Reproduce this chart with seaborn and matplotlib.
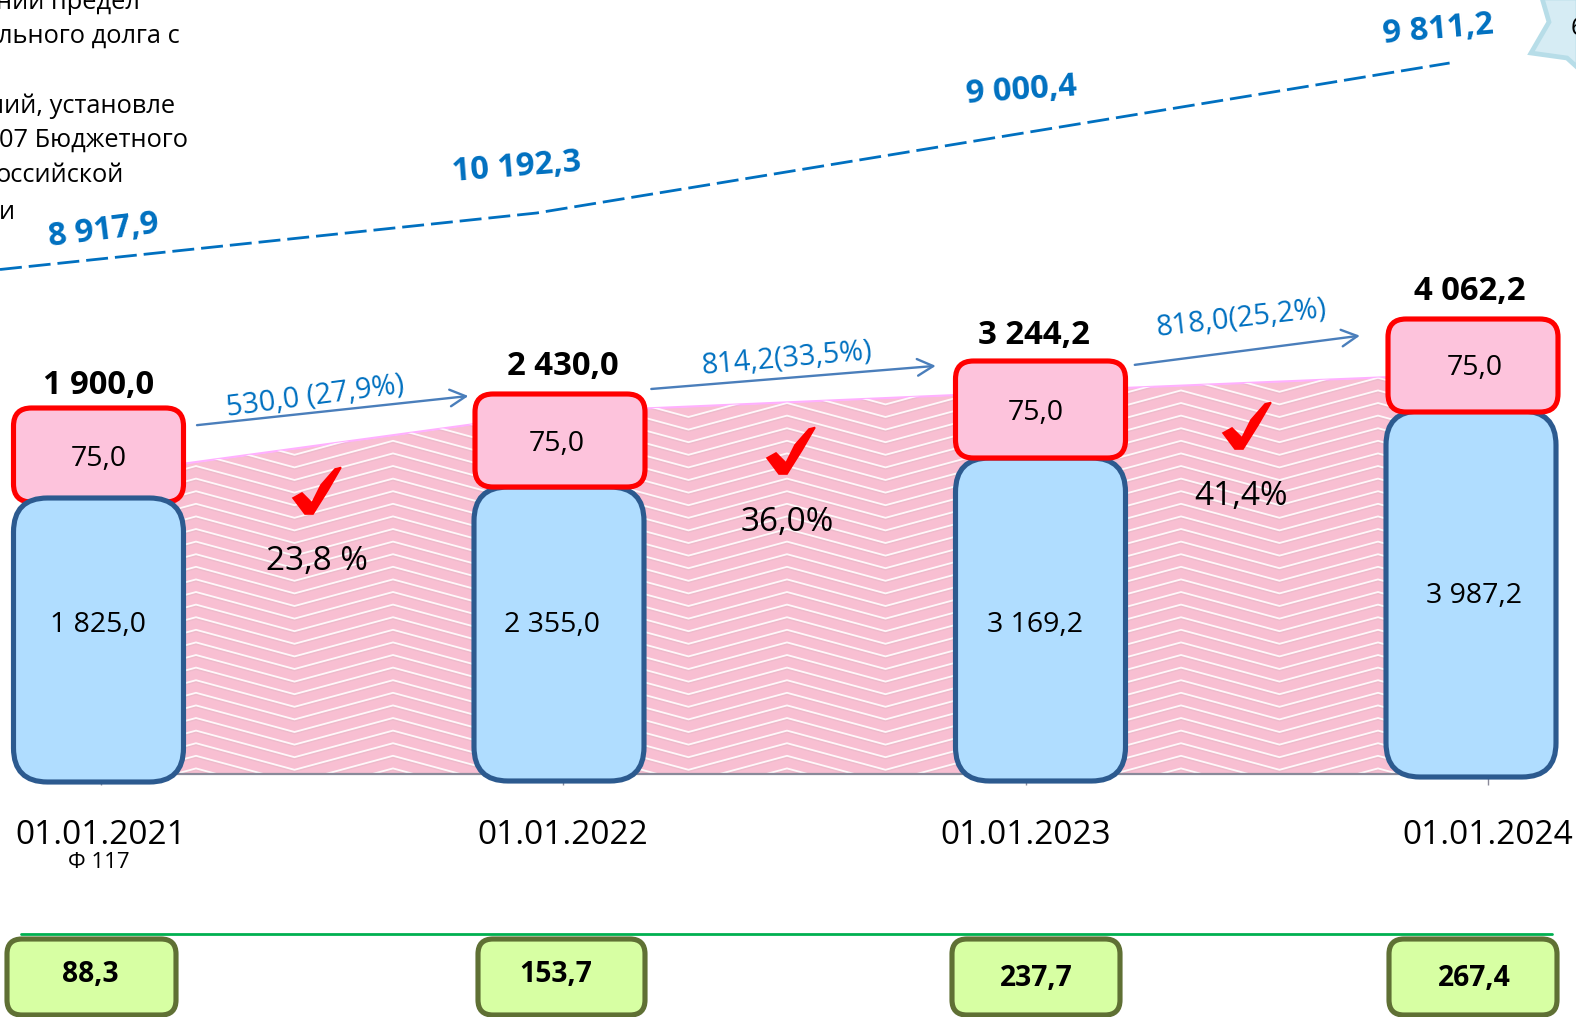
import numpy as np
import matplotlib
matplotlib.use("Agg")
import matplotlib.pyplot as plt
from matplotlib.patches import FancyBboxPatch, Polygon
from matplotlib.transforms import Affine2D, IdentityTransform
from matplotlib.lines import Line2D
import seaborn as sns

# ---- data -----------------------------------------------------------------
dates = ["01.01.2021", "01.01.2022", "01.01.2023", "01.01.2024"]
total_labels = ["1 900,0", "2 430,0", "3 244,2", "4 062,2"]
base_labels = ["1 825,0", "2 355,0", "3 169,2", "3 987,2"]
cap_labels = ["75,0", "75,0", "75,0", "75,0"]
limit_labels = ["8 917,9", "10 192,3", "9 000,4", "9 811,2"]
growth_labels = ["530,0 (27,9%)", "814,2(33,5%)", "818,0(25,2%)"]
share_labels = ["23,8 %", "36,0%", "41,4%"]
service_labels = ["88,3", "153,7", "237,7", "267,4"]
note_lines = ["ний предел", "льного долга с", "ний, установле", "07 Бюджетного", "оссийской", "и"]

# heights as drawn on the slide's own (non proportional) scale
base_tops = [277, 288, 317, 364]
cap_tops = [367, 381, 414, 456]
cap_heights = [96, 95, 99, 95]
area_tops = [299, 362, 382, 401]
limit_line_x = [-0.2173, 0.943, 2.917]
limit_line_y = [504.5, 561, 711]

# ---- layout ----------------------------------------------------------------
W, H = 1576, 1017
K = W / 1568
BASE_PX, TICK0, STEP = 774, 100.5, 462.5
bar_offsets = [-2, -4, 15, -17]
cap_offsets = [-2, -3, 15, -15]
base_below = [9, 8, 8, 4]
BAR_W = 172 / STEP

sns.set_theme(style="white")
plt.rcParams["font.family"] = ["Open Sans", "DejaVu Sans"]
C_BLUE, C_BLUE_E = "#B0DDFF", "#2C5A8F"
C_PINK, C_RED = "#FDC3DC", "#FF0000"
C_AREA = "#F8BFD2"
C_LINE = "#0070C0"
C_ARROW = "#4A7EBB"
C_GREEN, C_GREEN_E = "#D7FFA3", "#5F7034"

fig = plt.figure(figsize=(W / 100, H / 100), dpi=100, facecolor="white")
ax = fig.add_axes([0, 0, 1, 1])
ax.set_facecolor("none")
PX = Affine2D().scale(1, -1).translate(0, H)


def T(x, y, s, size, weight="normal", color="black", rot=0, ha="center", va="center"):
    return ax.text(x * K, (y + 3) * K, s, transform=PX, fontsize=size, fontweight=weight, color=color,
                   rotation=rot, rotation_mode="anchor", ha=ha, va=va, zorder=20, clip_on=False)


# bars through seaborn, then rounded from their geometry
sns.barplot(x=dates, y=base_tops, color=C_BLUE, width=BAR_W, saturation=1, ax=ax)
base_bars = list(ax.patches)
sns.barplot(x=dates, y=cap_tops, color=C_PINK, width=BAR_W, saturation=1, ax=ax)
cap_bars = list(ax.patches)[len(base_bars):]

ax.set_xlim(-TICK0 / STEP, (W - TICK0) / STEP)
ax.set_ylim(BASE_PX - H, BASE_PX)
ax.set_ylabel("")
ax.set_yticks([])
for s in ["top", "left", "right"]:
    ax.spines[s].set_visible(False)
ax.spines["bottom"].set_position(("data", 0))
ax.spines["bottom"].set_bounds(0, 3)
ax.spines["bottom"].set_color("#8A8A9A")
ax.spines["bottom"].set_linewidth(1.6)
ax.spines["bottom"].set_zorder(3)
ax.set_xticks(range(4))
ax.set_xticklabels(dates, fontsize=24, color="black")
ax.tick_params(axis="x", length=8, width=1, color="#8A8A9A", pad=24.2, bottom=True)
ax.set_axisbelow(True)


def rounded(bar, offset, bottom_extra, height, radius, face, edge, lw, z):
    xs = bar.get_x()
    top = bar.get_height()
    bottom = top - height if height is not None else -bottom_extra
    (x0, y0) = ax.transData.transform((xs, bottom))
    (x1, y1) = ax.transData.transform((xs + bar.get_width(), top))
    inset = 1.0
    box = FancyBboxPatch((x0 + offset + inset, y0 + inset), x1 - x0 - 2 * inset, y1 - y0 - 2 * inset,
                         boxstyle=f"round,pad=0,rounding_size={radius}", transform=IdentityTransform(),
                         facecolor=face, edgecolor=edge, linewidth=lw, zorder=z)
    ax.add_patch(box)


for i in range(4):
    rounded(base_bars[i], bar_offsets[i], base_below[i], None, 34, C_BLUE, C_BLUE_E, 3.7, 6 if i else 8)
    rounded(cap_bars[i], cap_offsets[i], 0, cap_heights[i], 18, C_PINK, C_RED, 3.7, 7)
for p in base_bars + cap_bars:
    p.remove()

# area with chevron texture
xpos = np.arange(4)
area = ax.fill_between(xpos, 0, area_tops, color=C_AREA, linewidth=0, zorder=1)
path, trans = area.get_paths()[0], area.get_transform()
sns.lineplot(x=xpos, y=area_tops, color="#FFB0FF", linewidth=1.5, ax=ax, zorder=2, errorbar=None)

xx = np.arange(-1, 18) * 98.5 - 1
phase = np.round((xx - 393) / 98.5).astype(int) % 2
yy = np.where(phase == 0, 0.0, 26.6)
for lev in np.arange(340, 830, 12.6):
    shade = Line2D(xx, lev + yy + 1.6, transform=PX, color="#EDBBCB", lw=1.1, zorder=1.5)
    ln = Line2D(xx, lev + yy, transform=PX, color="white", lw=1.3, alpha=0.9, zorder=2)
    for item in (shade, ln):
        ax.add_line(item)
        item.set_clip_path(path, trans)

# dashed limit line
sns.lineplot(x=limit_line_x, y=limit_line_y, color=C_LINE, linewidth=2.0, ax=ax, zorder=4, errorbar=None, sort=False)
ax.lines[-1].set_linestyle((0, (7.9, 2.5)))
ax.set_xlim(-TICK0 / STEP, (W - TICK0) / STEP)
ax.set_ylim(BASE_PX - H, BASE_PX)

# texts on the bars
for (x, y), s in zip([(98, 381), (560, 362), (1029, 331), (1462, 287)], total_labels):
    T(x, y, s, 23.7, "bold")
for (x, y), s in zip([(98, 454), (554, 439), (1031, 408), (1467, 363)], cap_labels):
    T(x, y, s, 20.5)
for (x, y), s in zip([(98, 619), (549, 619), (1030, 619), (1467, 590)], base_labels):
    T(x, y, s, 20.5)
for (x, y, r), s in zip([(103, 227, 7), (514, 164, 4.5), (1016, 87, 4), (1431, 27, 5)], limit_labels):
    T(x, y, s, 23.5, "bold", C_LINE, r)
for (x, y, r), s in zip([(314, 391, 7.5), (783, 354, 5), (1235, 314, 6.5)], growth_labels):
    T(x, y, s, 20.8, color=C_LINE, rot=r)
for (x, y), s in zip([(315, 556), (783, 517), (1235, 491)], share_labels):
    T(x, y, s, 24)
T(98, 855, "Ф 117", 16)

# arrows
for (a, b) in [((196, 423), (466, 394)), ((648, 387), (931, 364)), ((1129, 363), (1353, 334))]:
    ax.annotate("", xy=(b[0] * K, b[1] * K), xytext=(a[0] * K, a[1] * K), xycoords=PX, textcoords=PX,
                arrowprops=dict(arrowstyle="->,head_length=0.95,head_width=0.5", color=C_ARROW, lw=1.7,
                                shrinkA=0, shrinkB=0), zorder=9)

# check marks
check = np.array([(0, 31), (9, 26), (19, 36), (28, 18), (42, 2), (48, 0.5), (35, 23), (20, 47), (12, 47)], float)
for ox, oy in [(293, 467), (767, 427), (1223, 402)]:
    ax.add_patch(Polygon(check + (ox, oy), closed=True, transform=PX, facecolor=C_RED, edgecolor=C_RED,
                         linewidth=1.2, zorder=10))

# green row
ax.add_line(Line2D([21, 1552], [934, 934], transform=PX, color="#00B050", lw=2, zorder=5))
for (x0, x1), (lx, ly), s in zip([(7, 176), (478, 645), (952, 1120), (1389, 1557)],
                                 [(90, 967), (553, 967), (1031, 971), (1467, 971)], service_labels):
    ax.add_patch(FancyBboxPatch((x0, H - 1015), x1 - x0, 76, boxstyle="round,pad=0,rounding_size=15",
                                transform=IdentityTransform(), facecolor=C_GREEN, edgecolor=C_GREEN_E,
                                linewidth=3.7, zorder=6))
    T(lx, ly, s, 20.3, "bold")

# note at the left, cut by the slide edge
for (x, y), s in zip([(139, -1), (179, 33), (174, 103), (187, 137), (123, 172), (15, 208)], note_lines):
    T(x, y, s, 18.3, ha="right")

# star callout at the top right
ax.add_patch(Polygon([(1542, -2), (1549, 22), (1531, 53), (1567, 58), (1578, 68), (1578, -2)], closed=True,
                     transform=PX, facecolor="#D6ECF4", edgecolor="#B7DDE8", linewidth=3.4, zorder=5))
T(1563, 25, "6", 18, ha="left")

fig.savefig("out.png", dpi=100, facecolor="white")
